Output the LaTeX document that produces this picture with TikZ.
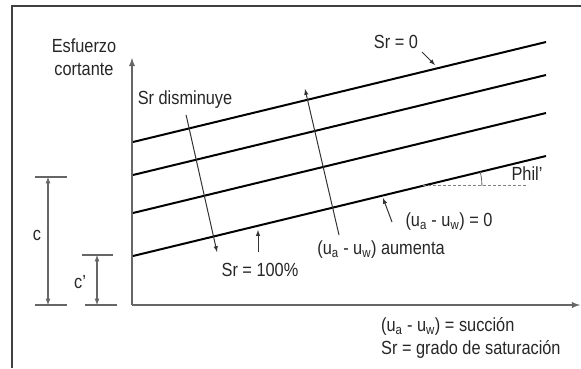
\documentclass[tikz,border=0pt]{standalone}
\usepackage{fontspec}
\setmainfont[FakeStretch=0.86]{Liberation Sans}
\usetikzlibrary{calc}
\newcommand{\uauw}{(u\textsubscript{a} - u\textsubscript{w})}

\begin{document}
\begin{tikzpicture}[
        x=1pt, y=1pt,
        txt/.style={font=\fontsize{19}{23}\selectfont, text=black!85, inner sep=1pt},
        envelope/.style={line width=2pt, black},
        axis/.style={-latex, line width=1.8pt, black!60},
        dimline/.style={latex-latex, line width=1.2pt, black!60},
        tick/.style={line width=1.5pt, black!60},
        pointer/.style={-latex, line width=1pt, black!80}
    ]

        \useasboundingbox (0,0) rectangle (581,368);
        \draw[line width=1.5pt, black!75] (12,0) -- (12,362) -- (581,362);

        
        \coordinate (origin) at (132,63);
        \coordinate (ytop) at (132,310);
        \coordinate (xend) at (580,63);
        \draw[axis] (origin) -- (ytop);
        \draw[axis] (origin) -- (xend);
        \node[txt, align=center] (tau) at (84,311) {Esfuerzo\\cortante};
        \node[txt, align=left, anchor=west] (legend) at (380,30) {\uauw{} = succión\\Sr = grado de saturación};

        
        \coordinate (l1a) at (133,226);
        \coordinate (l1b) at (546,326);
        \coordinate (l2a) at (133,193);
        \coordinate (l2b) at (546,293);
        \coordinate (l3a) at (133,155);
        \coordinate (l3b) at (546,255);
        \coordinate (l4a) at (133,112);
        \coordinate (l4b) at (546,212);
        \draw[envelope] (l1a) -- (l1b);
        \draw[envelope] (l2a) -- (l2b);
        \draw[envelope] (l3a) -- (l3b);
        \draw[envelope] (l4a) -- (l4b);

        
        \coordinate (phi) at ($(l4a)!0.702!(l4b)$);
        \draw[dashed, dash pattern=on 3pt off 2pt, line width=0.8pt, black!50] (phi) -- ++(105,0);
        \draw[line width=0.8pt, black!60] ($(phi)+(59,0)$) arc[start angle=0, end angle=13.6, radius=59];
        \node[txt] (phil) at (527,194) {Phil’};

        
        \coordinate (ctop) at (48,191);
        \coordinate (cbot) at (48,63);
        \coordinate (cptop) at (97,113);
        \coordinate (cpbot) at (97,63);
        \draw[tick] ($(ctop)+(-13,0)$) -- ++(32,0);
        \draw[tick] ($(cbot)+(-13,0)$) -- ++(32,0);
        \draw[tick] ($(cptop)+(-15,0)$) -- ++(31,0);
        \draw[tick] ($(cpbot)+(-12,0)$) -- ++(32,0);
        \draw[dimline] (ctop) -- (cbot);
        \draw[dimline] (cptop) -- (cpbot);
        \node[txt] (c) at (37,133) {c};
        \node[txt] (cp) at (80,86) {c’};

        
        \node[txt] (srdis) at (185,268) {Sr disminuye};
        \coordinate (srdistip) at (217,116);
        \draw[pointer, shorten <=5pt] (srdis.south) -- (srdistip);

        \node[txt] (sr100) at (260,98) {Sr = 100\%};
        \coordinate (sr100tail) at (258,116);
        \coordinate (sr100tip) at (258,138);
        \draw[pointer] (sr100tail) -- (sr100tip);

        \node[txt] (aum) at (381,118) {\uauw{} aumenta};
        \coordinate (aumtail) at (339,133);
        \coordinate (aumtip) at (305,279);
        \draw[pointer] (aumtail) -- (aumtip);

        \node[txt] (zero) at (449,146) {\uauw{} = 0};
        \coordinate (zerotail) at (392,146);
        \coordinate (zerotip) at (383,170);
        \draw[pointer] (zerotail) -- (zerotip);

        \node[txt] (sr0) at (396,326) {Sr = 0};
        \coordinate (sr0tail) at (422,316);
        \coordinate (sr0tip) at (435,303);
        \draw[pointer] (sr0tail) -- (sr0tip);
    \end{tikzpicture}
\end{document}
